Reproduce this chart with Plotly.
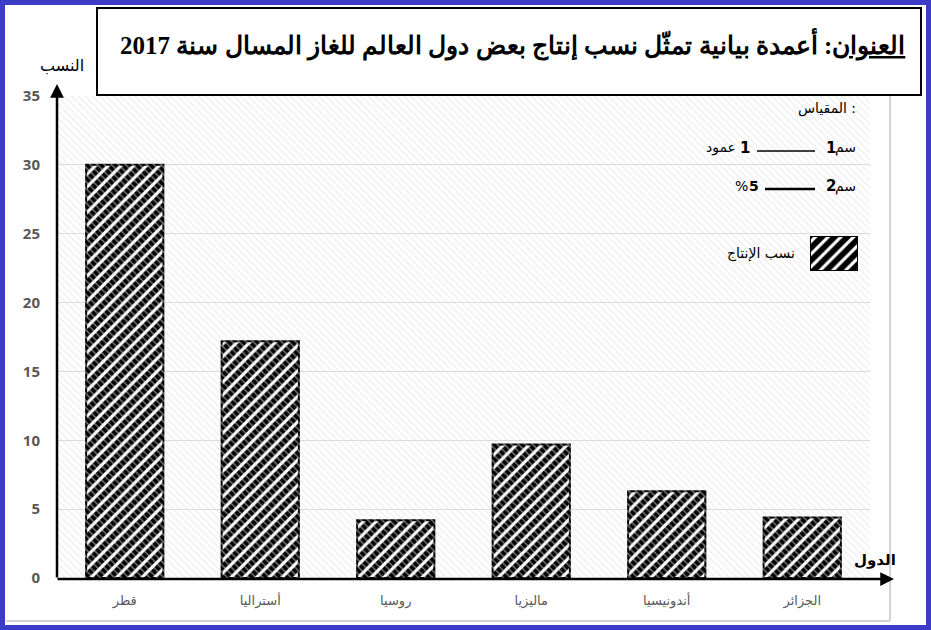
import plotly.graph_objects as go

# ---- data ----
countries = ["قطر", "أستراليا", "روسيا", "ماليزيا", "أندونيسيا", "الجزائر"]
shares = [30, 17.2, 4.2, 9.7, 6.3, 4.4]
y_ticks = [0, 5, 10, 15, 20, 25, 30, 35]
title_label = "العنوان"
title_rest = ": أعمدة بيانية تمثّل نسب إنتاج بعض دول العالم للغاز المسال سنة 2017"
y_title = "النسب"
x_title = "الدول"
legend_name = "نسب الإنتاج"
scale_head = "المقياس :"
unit_cm = "سم"
unit_bar = "عمود"

W, H = 931, 630
L, R, T, B = 57, 61, 96, 52
PW, PH = W - L - R, H - T - B


def px(x):
    return (x - L) / PW


def py(y):
    return (H - B - y) / PH


xs = list(range(len(countries)))
HATCH = dict(shape="/", fgcolor="black", bgcolor="white", size=9, solidity=0.64, fgopacity=1)

fig = go.Figure()

# faint hatched plot background (decoration)
fig.add_trace(go.Scatter(
    x=[-0.5, 5.5, 5.5, -0.5], y=[0, 0, 35, 35], fill="toself", mode="none",
    fillcolor="rgba(0,0,0,0)",
    fillpattern=dict(shape="\\", fgcolor="#e2e2e2", bgcolor="rgba(0,0,0,0)", size=5, solidity=0.3),
    hoverinfo="skip", showlegend=False,
))

fig.add_trace(go.Bar(
    x=xs, y=shares, width=0.57,
    marker=dict(color="white", pattern=HATCH, line=dict(color="black", width=2)),
    showlegend=False, name=legend_name,
))

# legend swatch as its own tiny subplot
fig.add_trace(go.Bar(
    x=[0], y=[1], width=1, xaxis="x2", yaxis="y2",
    marker=dict(color="white", pattern=HATCH, line=dict(color="black", width=2)),
    showlegend=False, hoverinfo="skip",
))

fig.update_layout(
    width=W, height=H,
    margin=dict(l=L, r=R, t=T, b=B),
    paper_bgcolor="white", plot_bgcolor="white",
    showlegend=False,
    xaxis=dict(
        range=[-0.5, 5.5], tickvals=xs, ticktext=countries,
        showgrid=False, zeroline=False, showline=False,
        ticks="outside", ticklen=10, tickcolor="rgba(0,0,0,0)",
        tickfont=dict(family="DejaVu Sans", size=13, color="#595959"),
    ),
    yaxis=dict(
        range=[0, 35], tickvals=y_ticks,
        showgrid=True, gridcolor="#d9d9d9", gridwidth=1,
        zeroline=False, showline=False,
        ticks="outside", ticklen=13, tickcolor="rgba(0,0,0,0)",
        tickfont=dict(family="Open Sans", size=15, color="#595959", weight="bold"),
    ),
    xaxis2=dict(domain=[px(810), px(858)], range=[-0.5, 0.5], visible=False, anchor="y2"),
    yaxis2=dict(domain=[py(271), py(236)], range=[0, 1], visible=False, anchor="x2"),
)

shapes = []
# blue outer frame
shapes.append(dict(type="rect", xref="paper", yref="paper",
                   x0=px(2.5), x1=px(928.5), y0=py(627.5), y1=py(2.5),
                   line=dict(color="#3c3cc8", width=5), fillcolor="rgba(0,0,0,0)"))
# light gray chart-area border
shapes.append(dict(type="line", xref="paper", yref="paper",
                   x0=px(890), x1=px(890), y0=py(95), y1=py(621),
                   line=dict(color="#d4d4d4", width=2)))
shapes.append(dict(type="line", xref="paper", yref="paper",
                   x0=px(6), x1=px(890), y0=py(621), y1=py(621),
                   line=dict(color="#d4d4d4", width=2)))
# title box
shapes.append(dict(type="rect", xref="paper", yref="paper",
                   x0=px(97), x1=px(921), y0=py(95), y1=py(8),
                   line=dict(color="black", width=2), fillcolor="white"))
# scale lines
shapes.append(dict(type="line", xref="paper", yref="paper",
                   x0=px(757), x1=px(815), y0=py(151), y1=py(151),
                   line=dict(color="black", width=1.5)))
shapes.append(dict(type="line", xref="paper", yref="paper",
                   x0=px(765), x1=px(815), y0=py(189), y1=py(189),
                   line=dict(color="black", width=2.5)))
fig.update_layout(shapes=shapes)

ann = []
# axes as arrows
ann.append(dict(xref="paper", yref="paper", x=px(57), y=py(84), ax=0, ay=495,
                showarrow=True, arrowhead=2, arrowsize=1.1, arrowwidth=2.5,
                arrowcolor="black", text=""))
ann.append(dict(xref="paper", yref="paper", x=px(894), y=py(579), ax=-838, ay=0,
                showarrow=True, arrowhead=2, arrowsize=1.1, arrowwidth=2.5,
                arrowcolor="black", text=""))


def txt(x, y, s, size=13, anchor="right", bold=False, family="DejaVu Sans"):
    return dict(xref="paper", yref="paper", x=px(x), y=py(y), xanchor=anchor, yanchor="middle",
                text=("<b>%s</b>" % s) if bold else s, showarrow=False,
                font=dict(family=family, size=size, color="black"))


# axis titles
ann.append(txt(62, 65, y_title, 16, anchor="center"))
ann.append(txt(898, 560, x_title, 15, bold=True))
# title
ann.append(txt(907, 44, "<span style='text-decoration:underline'>" + title_label + "</span>" + title_rest,
               25, bold=True, family="Liberation Serif"))

# scale block
ann.append(txt(858, 108, scale_head, 14))
ann.append(txt(858, 148, unit_cm, 14))
ann.append(txt(838, 148, "1", 15, bold=True))
ann.append(txt(752, 148, "1", 15, bold=True))
ann.append(txt(738, 148, unit_bar, 14))
ann.append(txt(858, 186, unit_cm, 14))
ann.append(txt(838, 186, "2", 15, bold=True))
ann.append(txt(761, 186, "5", 14, bold=True))
ann.append(txt(750, 186, "%", 14))
ann.append(txt(797, 254, legend_name, 14))
fig.update_layout(annotations=ann)

fig.write_html("out.html", config={"displayModeBar": False},
               post_script="document.body.style.margin='0';document.body.style.overflow='hidden';")
